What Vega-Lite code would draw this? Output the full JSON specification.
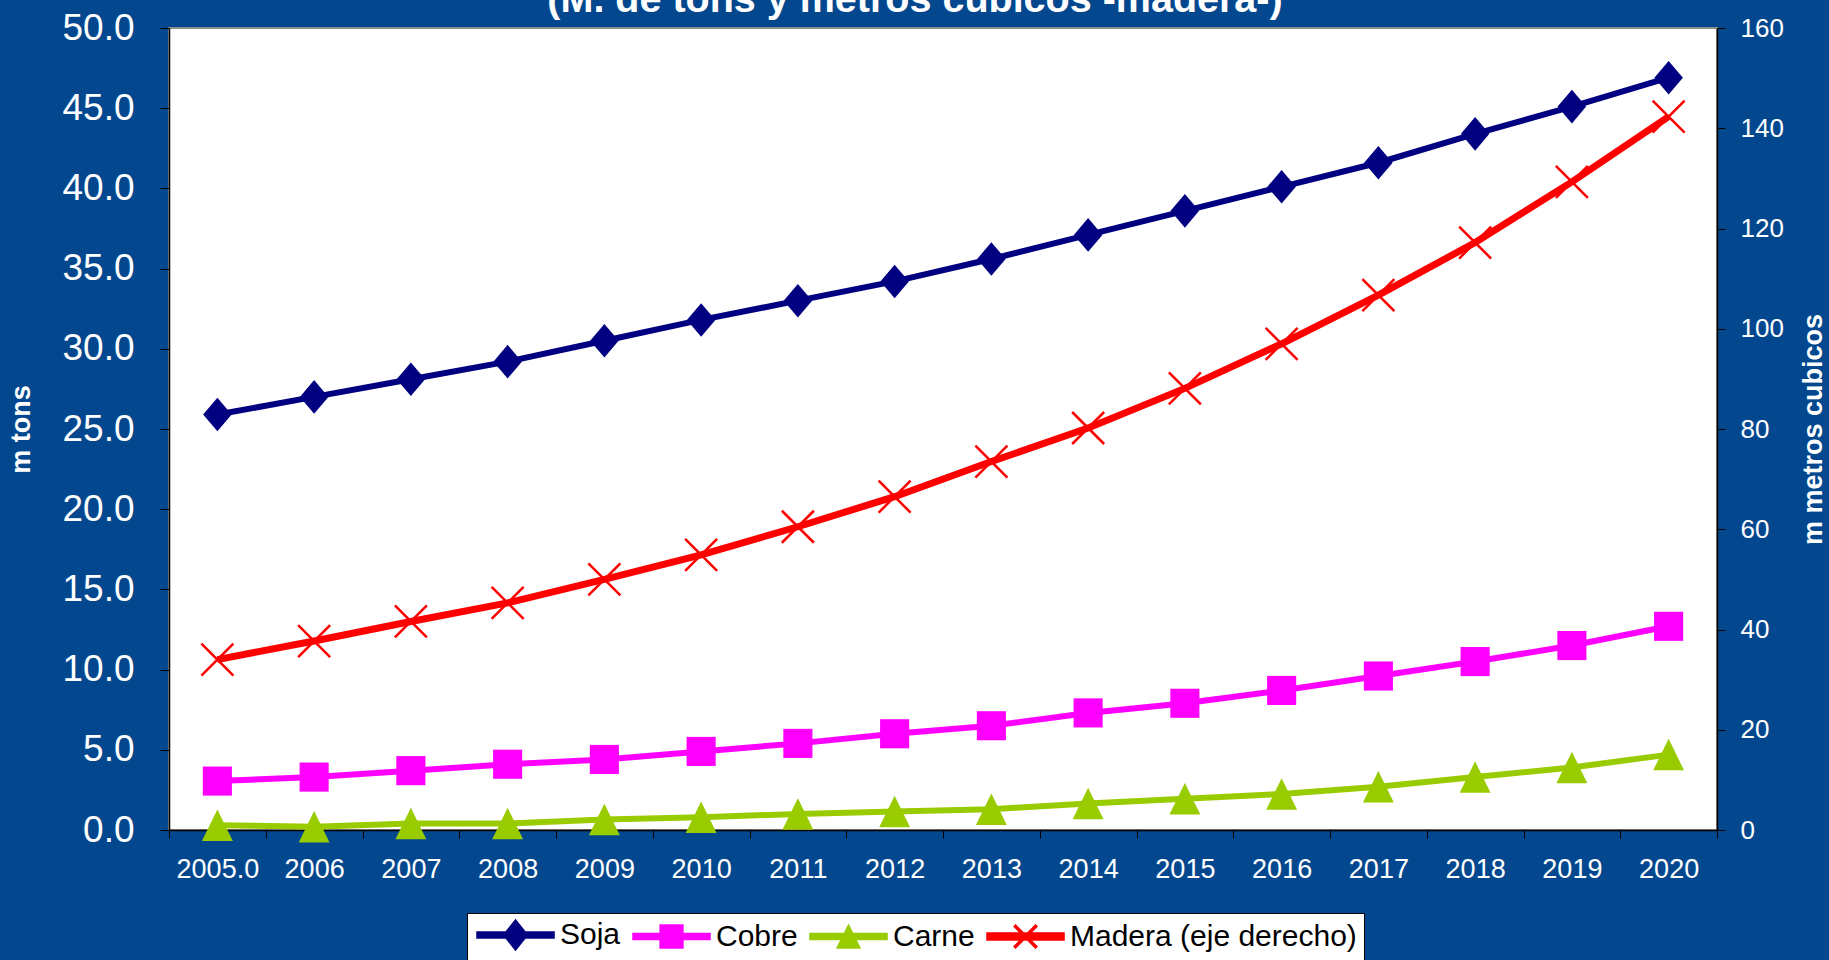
{
  "$schema": "https://vega.github.io/schema/vega-lite/v6.json",
  "autosize": {"type": "none"},
  "width": 1548,
  "height": 802,
  "padding": {"left": 169, "top": 28, "right": 112, "bottom": 130},
  "background": "#03488f",
  "config": {
    "view": {"fill": "white", "stroke": "#8c8c8c", "strokeWidth": 2},
    "font": "Liberation Sans"
  },
  "title": {
    "text": "(M. de tons y metros cubicos -madera-)",
    "font": "Liberation Sans",
    "fontSize": 39.5,
    "fontWeight": "bold",
    "color": "white",
    "anchor": "middle",
    "frame": "group",
    "baseline": "alphabetic",
    "offset": 0,
    "dy": 42,
    "dx": -28
  },
  "data": {
    "values": [
      {"year": "2005.0", "serie": "Soja", "value": 25.9},
      {"year": "2006", "serie": "Soja", "value": 27.0},
      {"year": "2007", "serie": "Soja", "value": 28.1},
      {"year": "2008", "serie": "Soja", "value": 29.2},
      {"year": "2009", "serie": "Soja", "value": 30.5},
      {"year": "2010", "serie": "Soja", "value": 31.8},
      {"year": "2011", "serie": "Soja", "value": 33.0},
      {"year": "2012", "serie": "Soja", "value": 34.2},
      {"year": "2013", "serie": "Soja", "value": 35.6},
      {"year": "2014", "serie": "Soja", "value": 37.1},
      {"year": "2015", "serie": "Soja", "value": 38.6},
      {"year": "2016", "serie": "Soja", "value": 40.1},
      {"year": "2017", "serie": "Soja", "value": 41.6},
      {"year": "2018", "serie": "Soja", "value": 43.4},
      {"year": "2019", "serie": "Soja", "value": 45.1},
      {"year": "2020", "serie": "Soja", "value": 46.9},
      {"year": "2005.0", "serie": "Cobre", "value": 3.05},
      {"year": "2006", "serie": "Cobre", "value": 3.3},
      {"year": "2007", "serie": "Cobre", "value": 3.7},
      {"year": "2008", "serie": "Cobre", "value": 4.1},
      {"year": "2009", "serie": "Cobre", "value": 4.4},
      {"year": "2010", "serie": "Cobre", "value": 4.9},
      {"year": "2011", "serie": "Cobre", "value": 5.4},
      {"year": "2012", "serie": "Cobre", "value": 6.0},
      {"year": "2013", "serie": "Cobre", "value": 6.5},
      {"year": "2014", "serie": "Cobre", "value": 7.3},
      {"year": "2015", "serie": "Cobre", "value": 7.9},
      {"year": "2016", "serie": "Cobre", "value": 8.7},
      {"year": "2017", "serie": "Cobre", "value": 9.6},
      {"year": "2018", "serie": "Cobre", "value": 10.5},
      {"year": "2019", "serie": "Cobre", "value": 11.5},
      {"year": "2020", "serie": "Cobre", "value": 12.7},
      {"year": "2005.0", "serie": "Carne", "value": 0.3},
      {"year": "2006", "serie": "Carne", "value": 0.2},
      {"year": "2007", "serie": "Carne", "value": 0.4},
      {"year": "2008", "serie": "Carne", "value": 0.4},
      {"year": "2009", "serie": "Carne", "value": 0.65},
      {"year": "2010", "serie": "Carne", "value": 0.8},
      {"year": "2011", "serie": "Carne", "value": 1.0},
      {"year": "2012", "serie": "Carne", "value": 1.15},
      {"year": "2013", "serie": "Carne", "value": 1.3},
      {"year": "2014", "serie": "Carne", "value": 1.65},
      {"year": "2015", "serie": "Carne", "value": 1.95},
      {"year": "2016", "serie": "Carne", "value": 2.25},
      {"year": "2017", "serie": "Carne", "value": 2.7},
      {"year": "2018", "serie": "Carne", "value": 3.3},
      {"year": "2019", "serie": "Carne", "value": 3.9},
      {"year": "2020", "serie": "Carne", "value": 4.7},
      {"year": "2005.0", "serie": "Madera (eje derecho)", "value": 34.0},
      {"year": "2006", "serie": "Madera (eje derecho)", "value": 37.7},
      {"year": "2007", "serie": "Madera (eje derecho)", "value": 41.6},
      {"year": "2008", "serie": "Madera (eje derecho)", "value": 45.3},
      {"year": "2009", "serie": "Madera (eje derecho)", "value": 50.0},
      {"year": "2010", "serie": "Madera (eje derecho)", "value": 54.9},
      {"year": "2011", "serie": "Madera (eje derecho)", "value": 60.5},
      {"year": "2012", "serie": "Madera (eje derecho)", "value": 66.5},
      {"year": "2013", "serie": "Madera (eje derecho)", "value": 73.5},
      {"year": "2014", "serie": "Madera (eje derecho)", "value": 80.2},
      {"year": "2015", "serie": "Madera (eje derecho)", "value": 88.1},
      {"year": "2016", "serie": "Madera (eje derecho)", "value": 97.0},
      {"year": "2017", "serie": "Madera (eje derecho)", "value": 106.7},
      {"year": "2018", "serie": "Madera (eje derecho)", "value": 117.2},
      {"year": "2019", "serie": "Madera (eje derecho)", "value": 129.3},
      {"year": "2020", "serie": "Madera (eje derecho)", "value": 142.3}
    ]
  },
  "encoding": {
    "x": {
      "field": "year",
      "type": "ordinal",
      "sort": null,
      "bandPosition": 0.5,
      "scale": {"type": "band", "paddingInner": 0, "paddingOuter": 0},
      "axis": {
        "title": null,
        "labelAngle": 0,
        "labelFont": "Liberation Sans",
        "labelFontSize": 27,
        "labelColor": "white",
        "labelPadding": 18,
        "tickBand": "extent",
        "tickSize": 8,
        "tickColor": "black",
        "domainColor": "black",
        "domainWidth": 1.5
      }
    }
  },
  "layer": [
    {
      "transform": [{"filter": "datum.serie !== 'Madera (eje derecho)'"}],
      "encoding": {
        "y": {
          "field": "value",
          "type": "quantitative",
          "scale": {"domain": [0, 50], "nice": false, "zero": true},
          "axis": {
            "orient": "left",
            "title": "m tons",
            "titleFont": "Liberation Sans",
            "titleFontSize": 27,
            "titleFontWeight": "bold",
            "titleColor": "white",
            "titlePadding": 26,
            "values": [0, 5, 10, 15, 20, 25, 30, 35, 40, 45, 50],
            "format": ".1f",
            "labelFont": "Liberation Sans",
            "labelFontSize": 37,
            "labelColor": "white",
            "labelPadding": 26,
            "tickSize": 9,
            "tickColor": "black",
            "domainColor": "black",
            "domainWidth": 1.5,
            "grid": false
          }
        },
        "color": {
          "field": "serie",
          "type": "nominal",
          "scale": {
            "domain": ["Soja", "Cobre", "Carne", "Madera (eje derecho)"],
            "range": ["#000080", "#ff00ff", "#99cc00", "#ff0000"]
          },
          "legend": {
            "orient": "none",
            "legendX": 298,
            "legendY": 885,
            "direction": "horizontal",
            "title": null,
            "fillColor": "white",
            "strokeColor": "black",
            "padding": 7,
            "labelFont": "Liberation Sans",
            "labelFontSize": 30,
            "labelColor": "black",
            "labelLimit": 500,
            "symbolSize": 576,
            "labelOffset": 56,
            "columnPadding": 9,
            "encode": {
              "symbols": {
                "update": {
                  "shape": {"signal": "datum.value === 'Soja' ? 'M-1,-0.25H5.42V0.25H-1Z M2.21,-1.25L3.21,0L2.21,1.25L1.21,0Z' : datum.value === 'Cobre' ? 'M-1,-0.25H5.42V0.25H-1Z M1.26,-0.95H3.16V0.95H1.26Z' : datum.value === 'Carne' ? 'M-1,-0.25H5.42V0.25H-1Z M2.21,-0.95L3.16,0.95H1.26Z' : 'M-1,-0.3H5.42V0.3H-1Z M1.26,-0.83L1.38,-0.95L3.16,0.83L3.04,0.95Z M3.04,-0.95L3.16,-0.83L1.38,0.95L1.26,0.83Z'"},
                  "fill": {"signal": "datum.value === 'Soja' ? '#000080' : datum.value === 'Cobre' ? '#ff00ff' : datum.value === 'Carne' ? '#99cc00' : '#ff0000'"},
                  "stroke": {"value": "transparent"},
                  "opacity": {"value": 1}
                }
              }
            }
          }
        }
      },
      "layer": [
        {"mark": {"type": "line", "strokeWidth": 6}},
        {
          "mark": {"type": "point", "filled": true, "opacity": 1, "size": 900},
          "encoding": {
            "shape": {
              "field": "serie",
              "type": "nominal",
              "scale": {
                "domain": ["Soja", "Cobre", "Carne"],
                "range": ["M0,-1.12L0.95,0L0,1.12L-0.95,0Z", "M-0.97,-0.97H0.97V0.97H-0.97Z", "M0,-1.05L1.03,1.05H-1.03Z"]
              },
              "legend": null
            }
          }
        }
      ]
    },
    {
      "transform": [{"filter": "datum.serie === 'Madera (eje derecho)'"}],
      "encoding": {
        "y": {
          "field": "value",
          "type": "quantitative",
          "scale": {"domain": [0, 160], "nice": false, "zero": true},
          "axis": {
            "orient": "right",
            "title": "m metros cubicos",
            "titleAngle": 270,
            "titleFont": "Liberation Sans",
            "titleFontSize": 27,
            "titleFontWeight": "bold",
            "titleColor": "white",
            "titlePadding": 44,
            "values": [0, 20, 40, 60, 80, 100, 120, 140, 160],
            "format": "d",
            "labelFont": "Liberation Sans",
            "labelFontSize": 26,
            "labelColor": "white",
            "labelPadding": 15,
            "tickSize": 8,
            "tickColor": "black",
            "domainColor": "black",
            "domainWidth": 1.5,
            "grid": false
          }
        },
        "color": {
          "field": "serie",
          "type": "nominal",
          "legend": null
        }
      },
      "layer": [
        {"mark": {"type": "line", "strokeWidth": 7}},
        {"mark": {"type": "point", "filled": false, "opacity": 1, "size": 1024, "shape": "M-1,-1L1,1M-1,1L1,-1", "strokeWidth": 2.5}}
      ]
    }
  ],
  "resolve": {"scale": {"y": "independent"}}
}
